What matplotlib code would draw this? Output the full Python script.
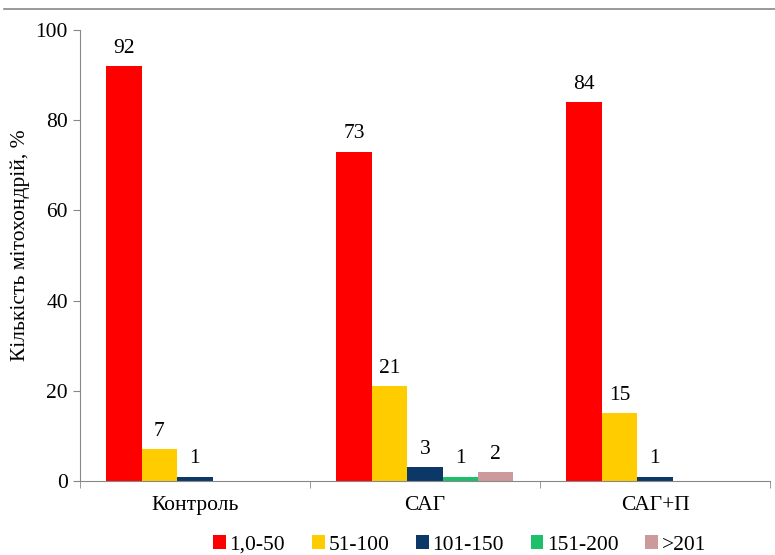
import matplotlib
matplotlib.use('Agg')
import matplotlib.pyplot as plt
import numpy as np

plt.rcParams['font.family'] = ['Liberation Serif', 'DejaVu Serif']

groups = ['Контроль', 'САГ', 'САГ+П']
series = ['1,0-50', '51-100', '101-150', '151-200', '>201']
v_1_50 = [92, 73, 84]
v_51_100 = [7, 21, 15]
v_101_150 = [1, 3, 1]
v_151_200 = [0, 1, 0]
v_201 = [0, 2, 0]
colors = ['#FF0000', '#FFCC00', '#0C3868', '#1DBF6A', '#CC9A9A']

values = [v_1_50, v_51_100, v_101_150, v_151_200, v_201]
fs = 15.5

fig = plt.figure(figsize=(7.75, 5.55), dpi=100)
ax = fig.add_axes([0.103, 0.1333, 0.8905, 0.8127])

x = np.arange(len(groups))
w = 0.154
for i, (name, vals, c) in enumerate(zip(series, values, colors)):
    pos = x + (i - 2) * w
    ax.bar(pos, vals, w, color=c, label=name)
    for p, v in zip(pos, vals):
        if v > 0:
            ax.annotate(str(v), (p, v), xytext=(0, 6), textcoords='offset points',
                        ha='center', va='bottom', fontsize=fs)

ax.set_xlim(-0.5, 2.5)
ax.set_ylim(0, 100)
ax.set_yticks(range(0, 101, 20))
ax.set_xticks(x)
ax.set_xticklabels(groups, fontsize=fs)
ax.set_xticks([-0.5, 0.5, 1.5, 2.5], minor=True)
ax.tick_params(axis='x', which='major', length=0, pad=11)
ax.tick_params(axis='x', which='minor', length=5, color='#888888', direction='out')
ax.tick_params(axis='y', labelsize=fs, length=5, color='#888888')
ax.set_ylabel('Кількість мітохондрій, %', fontsize=fs, va='center')
ax.yaxis.set_label_coords(-0.087, 0.523)

for s in ['top', 'right']:
    ax.spines[s].set_visible(False)
for s in ['left', 'bottom']:
    ax.spines[s].set_color('#888888')

fig.legend(loc='center', bbox_to_anchor=(0.593, 0.018), ncol=5, frameon=False,
           fontsize=fs, handlelength=0.6, handleheight=0.6, handletextpad=0.15,
           columnspacing=1.25, borderaxespad=0, borderpad=0)

fig.add_artist(plt.Line2D([0.005, 1.0], [0.984, 0.984], color='#888888', lw=1.2))

plt.savefig('out.png', dpi=100)
